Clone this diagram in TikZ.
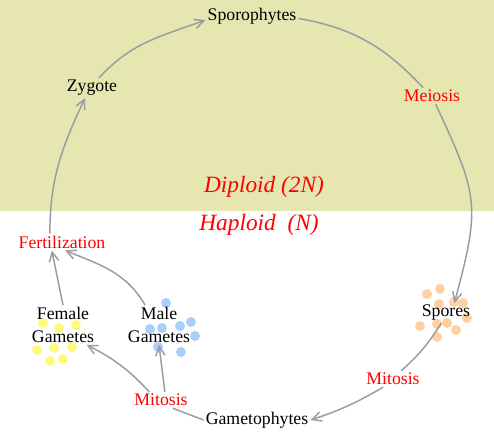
\documentclass[tikz,border=0pt]{standalone}
\usepackage{fontspec}
\setmainfont{Liberation Serif}
\usetikzlibrary{arrows.meta}

\definecolor{diploidbg}{RGB}{230,230,176}
\definecolor{cyclegray}{RGB}{155,155,162}
\definecolor{femaledot}{RGB}{255,250,125}
\definecolor{maledot}{RGB}{170,207,250}
\definecolor{sporedot}{RGB}{255,208,160}

\begin{document}
\begin{tikzpicture}[
		x=0.75pt, y=0.75pt,
		stage/.style={font=\fontsize{13.3}{17}\selectfont, inner sep=1.5pt, align=center},
		process/.style={stage, text=red},
		ploidy/.style={font=\fontsize{17.5}{20}\selectfont\itshape, text=red},
		cycle line/.style={cyclegray, line width=1.1pt},
		cycle arrow/.style={cycle line, -{Straight Barb[length=7pt, width=7pt, line width=1.1pt]}}
		]
		
		% =========================================================
		% Background: diploid band
		% =========================================================
		\useasboundingbox (0,0) rectangle (494,436);
		\fill[diploidbg] (0,225) rectangle (494,436);
		
		\node[ploidy] (diploid) at (264,249) {Diploid (2N)};
		\node[ploidy] (haploid) at (259,211) {Haploid\ \ (N)};
		
		% =========================================================
		% Cells (drawn behind the labels)
		% =========================================================
		\foreach \x/\y in {43/113, 59/108, 76/111, 37/86, 54/88, 72/89, 50/75, 63/77} {
			\fill[femaledot] (\x,\y) circle (5);
		}
		\foreach \x/\y in {166/133, 150/107, 162/108, 180/110, 191/114, 195/100, 158/89, 181/84} {
			\fill[maledot] (\x,\y) circle (5);
		}
		\foreach \x/\y in {427/142, 440/147, 439/132, 454/134, 463/133, 420/110, 437/112, 447/113, 456/106, 467/118, 437/99} {
			\fill[sporedot] (\x,\y) circle (5);
		}
		
		% =========================================================
		% Stages and processes
		% =========================================================
		\node[stage] (sporophytes) at (252,420) {Sporophytes};
		\node[stage] (zygote) at (92,348) {Zygote};
		\node[process] (meiosis) at (432,340) {Meiosis};
		\node[stage] (spores) at (446,123) {Spores};
		\node[process] (mitosis right) at (393,57) {Mitosis};
		\node[stage] (gametophytes) at (257,16) {Gametophytes};
		\node[process] (mitosis left) at (161,36) {Mitosis};
		\node[stage] (female) at (63,111) {Female\\Gametes};
		\node[stage] (male) at (159,111) {Male\\Gametes};
		\node[process] (fertilization) at (62,194) {Fertilization};
		
		% =========================================================
		% Cycle connectors
		% =========================================================
		\draw[cycle arrow] (fertilization.145) to[out=90, in=245] (zygote.-125);
		\draw[cycle arrow] (zygote.55) to[out=48, in=200] (sporophytes.185);
		\draw[cycle line] (sporophytes.-3) to[out=-10, in=133] (meiosis.137);
		\draw[cycle arrow] (meiosis.-66) to[out=-65, in=75, looseness=1.3] (spores.50);
		\draw[cycle line] (spores.-115) to[bend left=8] (mitosis right.45);
		\draw[cycle arrow] (mitosis right.-140) to[out=-150, in=18] (gametophytes.east);
		\draw[cycle line] (gametophytes.west) -- (mitosis left.-35);
		
		% gametes
		\draw[cycle arrow] (mitosis left.145) to[bend right=10] (female.-40);
		\draw[cycle arrow] (mitosis left.65) -- (male.south);
		\draw[cycle arrow] (female.north) -- (fertilization.-140);
		\draw[cycle arrow] (male.125) to[out=120, in=-22] (fertilization.-70);
		
	\end{tikzpicture}
\end{document}
